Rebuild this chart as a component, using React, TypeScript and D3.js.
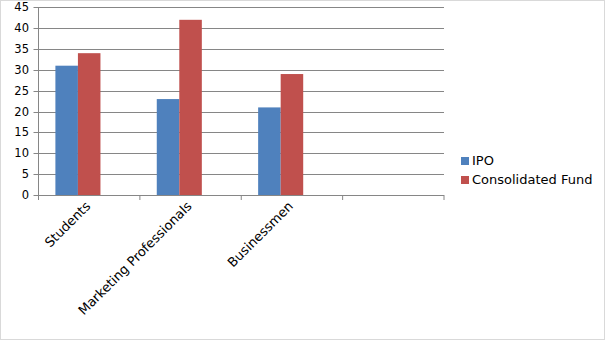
import React from "react";
import * as d3 from "d3";

const categories = ["Students", "Marketing Professionals", "Businessmen", ""];
const seriesNames = ["IPO", "Consolidated Fund"];
const ipoValues = [31, 23, 21];
const fundValues = [34, 42, 29];
const yTicks = [0, 5, 10, 15, 20, 25, 30, 35, 40, 45];
const colors = ["#4F81BD", "#C0504D"];

const W = 605;
const H = 340;
const left = 38.5;
const right = 444;
const top = 7.3;
const bottom = 195;
const FONT = "DejaVu Sans, Verdana, sans-serif";

export default function App() {
  const x = d3.scaleBand<string>().domain(categories.map((c, i) => String(i))).range([left, right]).paddingInner(0).paddingOuter(0);
  // three slots per category (third series slot empty) with Excel-like gap
  const inner = d3.scaleBand<string>().domain(["0", "1", "2"]).range([0, x.bandwidth()]).paddingInner(0).paddingOuter(0.75);
  const y = d3.scaleLinear().domain([0, 45]).range([bottom, top]);
  const seriesData = [ipoValues, fundValues];
  return (
    <svg width={W} height={H} style={{ position: "absolute", left: 0, top: 0 }} fontFamily={FONT}>
      <rect x={0.5} y={0.5} width={W - 1} height={H - 1} fill="#fff" stroke="#d9d9d9" />
      {yTicks.map((t) => (
        <g key={t}>
          <line x1={left - 5} x2={right} y1={Math.round(y(t)) + 0.5} y2={Math.round(y(t)) + 0.5} stroke="#868686" strokeWidth={1} />
          <text x={29} y={y(t) + 4} textAnchor="end" fontSize={11.5} fill="#000">{t}</text>
        </g>
      ))}
      <line x1={left} x2={left} y1={top} y2={bottom} stroke="#868686" />
      {categories.map((c, i) => (
        <line key={"t" + i} x1={x(String(i))!} x2={x(String(i))!} y1={bottom} y2={bottom + 5} stroke="#868686" />
      ))}
      <line x1={right} x2={right} y1={bottom} y2={bottom + 5} stroke="#868686" />
      {seriesData.map((vals, s) =>
        vals.map((v, i) => {
          const bx = x(String(i))! + inner(String(s))!;
          return <rect key={s + "-" + i} x={bx} y={y(v)} width={inner.bandwidth()} height={bottom - y(v)} fill={colors[s]} />;
        })
      )}
      <line x1={left} x2={right} y1={bottom + 0.5} y2={bottom + 0.5} stroke="#868686" />
      {categories.map((c, i) => {
        const cx = x(String(i))! + x.bandwidth() / 2;
        return (
          <text key={"c" + i} transform={`translate(${cx + 2},${bottom + 12}) rotate(-45)`} textAnchor="end" fontSize={13} fill="#000">{c}</text>
        );
      })}
      {seriesNames.map((n, i) => (
        <g key={n}>
          <rect x={461} y={157 + i * 19} width={8} height={8} fill={colors[i]} />
          <text x={472} y={165 + i * 19} fontSize={13} fill="#000">{n}</text>
        </g>
      ))}
    </svg>
  );
}
